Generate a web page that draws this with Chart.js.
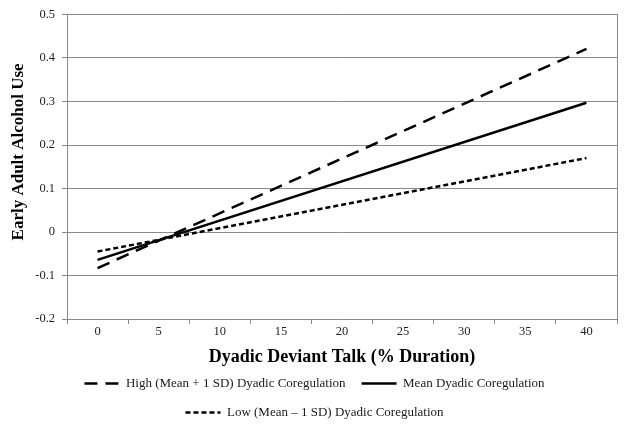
<!DOCTYPE html>
<html>
<head>
<meta charset="utf-8">
<script src="https://cdn.jsdelivr.net/npm/chart.js@4.4.1/dist/chart.umd.min.js"></script>
<style>
  html, body { margin: 0; padding: 0; background: #fff; }
  #wrap { width: 629px; height: 434px; position: relative; }
</style>
</head>
<body>
<div id="wrap"><canvas id="c"></canvas></div>
<script>
// Categories on the x axis (Dyadic Deviant Talk, % duration)
const categories = ['0', '5', '10', '15', '20', '25', '30', '35', '40'];
// Series values (straight lines: endpoints only)
const highValues = [-0.083, null, null, null, null, null, null, null, 0.421];
const meanValues = [-0.064, null, null, null, null, null, null, null, 0.297];
const lowValues  = [-0.045, null, null, null, null, null, null, null, 0.170];
// Series names
const seriesNames = [
  'High (Mean + 1 SD) Dyadic Coregulation',
  'Mean Dyadic Coregulation',
  'Low (Mean \u2013 1 SD) Dyadic Coregulation'
];
// Y tick range
const yMin = -0.2, yMax = 0.5, yStep = 0.1;
const xTitle = 'Dyadic Deviant Talk (% Duration)';
const yTitle = 'Early Adult Alcohol Use';

const GRID = '#8a8a8a';
const SERIF = "'Liberation Serif', 'Times New Roman', serif";

new Chart(document.getElementById('c'), {
  type: 'line',
  data: {
    labels: categories,
    datasets: [
      { label: seriesNames[0], data: highValues, borderColor: '#000', backgroundColor: '#000',
        borderWidth: 2.5, borderDash: [13, 8], pointRadius: 0, spanGaps: true, tension: 0 },
      { label: seriesNames[1], data: meanValues, borderColor: '#000', backgroundColor: '#000',
        borderWidth: 2.5, pointRadius: 0, spanGaps: true, tension: 0 },
      { label: seriesNames[2], data: lowValues, borderColor: '#000', backgroundColor: '#000',
        borderWidth: 2.5, borderDash: [5, 3], pointRadius: 0, spanGaps: true, tension: 0 }
    ]
  },
  options: {
    responsive: true,
    maintainAspectRatio: false,
    animation: false,
    devicePixelRatio: 1,
    layout: { padding: { top: 14, left: 0, right: 0, bottom: 5 } },
    plugins: {
      tooltip: { enabled: false },
      title: { display: false },
      legend: {
        position: 'bottom',
        labels: {
          usePointStyle: true,
          pointStyle: 'line',
          pointStyleWidth: 35,
          padding: 16,
          color: '#1a1a1a',
          font: { family: SERIF, size: 13 },
          generateLabels: (chart) => {
            const items = Chart.defaults.plugins.legend.labels.generateLabels(chart);
            items.forEach((it) => {
              const ds = chart.data.datasets[it.datasetIndex];
              it.lineDash = ds.borderDash || [];
              it.lineWidth = ds.borderWidth;
              it.strokeStyle = ds.borderColor;
              it.fillStyle = ds.borderColor;
              it.pointStyle = 'line';
            });
            return items;
          }
        }
      }
    },
    scales: {
      x: {
        type: 'category',
        offset: true,
        grid: { offset: true, drawOnChartArea: false, drawTicks: true, tickLength: 5, color: GRID, lineWidth: 1 },
        border: { display: true, color: GRID, width: 1 },
        ticks: { color: '#222', padding: 0, font: { family: SERIF, size: 12.5 }, maxRotation: 0, autoSkip: false },
        title: { display: true, text: xTitle, color: '#000',
                 font: { family: SERIF, size: 18, weight: 'bold', lineHeight: 1 },
                 padding: { top: 0, bottom: -5 } },
        afterFit: (s) => { s.height = 42; }
      },
      y: {
        min: yMin, max: yMax,
        position: 'left',
        grid: { color: GRID, lineWidth: 1, drawTicks: true, tickLength: 5 },
        border: { display: true, color: GRID, width: 1 },
        ticks: {
          stepSize: yStep, padding: 7, color: '#222',
          font: { family: SERIF, size: 12.5 },
          callback: (v) => String(Math.round(v * 10) / 10)
        },
        title: { display: true, text: '       ' + yTitle, color: '#000',
                 font: { family: SERIF, size: 17, weight: 'bold' },
                 padding: { top: 8, bottom: 0 } },
        afterFit: (s) => { s.width = 67; }
      },
      y2: {
        position: 'right',
        min: yMin, max: yMax,
        grid: { drawOnChartArea: false, drawTicks: false },
        border: { display: true, color: GRID, width: 1 },
        ticks: { display: false },
        afterFit: (s) => { s.width = 12; }
      }
    }
  }
});
</script>
</body>
</html>
